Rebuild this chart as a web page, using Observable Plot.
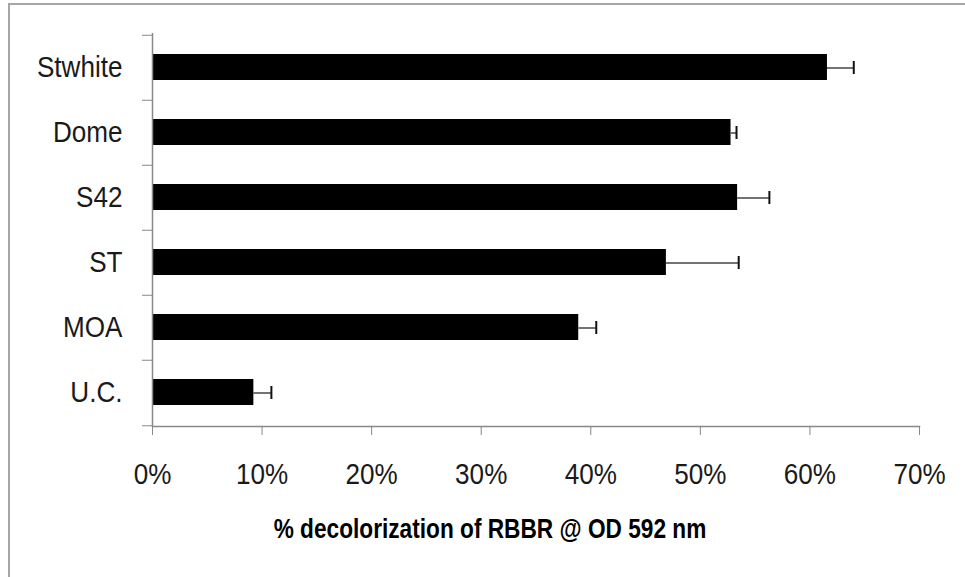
<!DOCTYPE html>
<html><head><meta charset="utf-8">
<script src="https://cdn.jsdelivr.net/npm/d3@7"></script>
<script src="https://cdn.jsdelivr.net/npm/@observablehq/plot@0.6"></script>
<style>
html,body{margin:0;padding:0;background:#fff;}
#wrap{position:relative;width:965px;height:577px;overflow:hidden;}
#border{position:absolute;left:8px;top:3px;right:-10px;bottom:-10px;border-top:2px solid #a6a6a6;border-left:2px solid #a6a6a6;pointer-events:none;}
#wrap svg{position:absolute;left:0;top:0;}
</style></head><body><div id="wrap"><div id="border"></div></div>
<script>
const categories = ["Stwhite", "Dome", "S42", "ST", "MOA", "U.C."];
const values = [61.6, 52.8, 53.4, 46.9, 38.9, 9.25];
const errors = [2.4, 0.5, 2.9, 6.6, 1.6, 1.6];
const xTicks = [0, 10, 20, 30, 40, 50, 60, 70];
const xTitle = "% decolorization of RBBR @ OD 592 nm";

const data = categories.map((name, i) => ({name, value: values[i], hi: values[i] + errors[i]}));
const font = '"Liberation Sans", Arial, sans-serif';
const H = 577, mT = 33, mB = 151;
const half = (H - mT - mB) / categories.length / 2;

const chart = Plot.plot({
  width: 965, height: H,
  marginLeft: 152, marginRight: 46, marginTop: mT, marginBottom: mB,
  style: {fontFamily: font, background: "transparent", color: "#111"},
  x: {domain: [0, 70]},
  y: {domain: categories, padding: 0},
  marks: [
    Plot.barX(data, {x: "value", y: "name", fill: "#000", insetTop: 19, insetBottom: 20}),
    Plot.ruleY(data, {y: "name", x1: "value", x2: "hi", stroke: "#444", strokeWidth: 1.5}),
    Plot.tickX(data, {x: "hi", y: "name", stroke: "#111", strokeWidth: 2, insetTop: 26, insetBottom: 26}),
    Plot.axisY({tickSize: 10, tickFormat: () => "", dy: -half, stroke: "#888", label: null}),
    Plot.axisY({ticks: ["U.C."], tickSize: 10, tickFormat: () => "", dy: half, stroke: "#888", label: null}),
    Plot.axisY({tickSize: 0, tickPadding: 30, fontSize: 29, fill: "#1a1a1a", label: null}),
    Plot.axisX({ticks: xTicks, tickSize: 9, tickPadding: 28, tickFormat: d => d + "%", fontSize: 29, stroke: "#888", fill: "#1a1a1a", label: null}),
    Plot.ruleX([0], {stroke: "#888", strokeWidth: 1.5}),
    Plot.frame({anchor: "bottom", stroke: "#888", strokeWidth: 1.5}),
    Plot.text([xTitle], {frameAnchor: "bottom", dy: 103, dx: -46, fontWeight: "bold", fontSize: 27, lineAnchor: "middle", fill: "#000"})
  ]
});

// Narrow the glyphs horizontally around each text's anchor point (the reference font is condensed)
function squeeze(selector, s) {
  chart.querySelectorAll(selector).forEach(t => {
    const tr = t.getAttribute("transform");
    if (tr) {
      t.setAttribute("transform", tr + ` scale(${s},1)`);
    } else {
      const x = +t.getAttribute("x") || 0, y = +t.getAttribute("y") || 0;
      t.removeAttribute("x"); t.removeAttribute("y");
      t.setAttribute("transform", `translate(${x},${y}) scale(${s},1)`);
    }
  });
}
squeeze('g[aria-label="y-axis tick label"] text', 0.9);
squeeze('g[aria-label="x-axis tick label"] text', 0.9);
squeeze('g[aria-label="text"] text', 0.84);

document.getElementById("wrap").appendChild(chart);
</script>
</body></html>
